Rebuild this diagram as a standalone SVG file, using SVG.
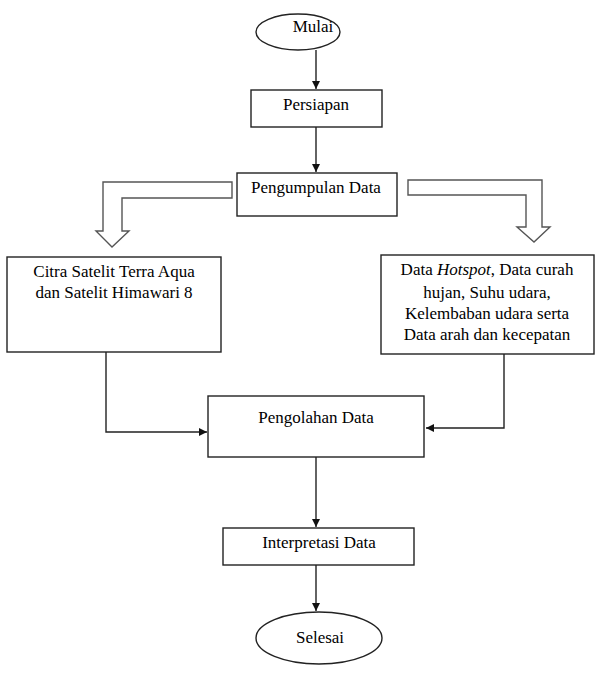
<svg xmlns="http://www.w3.org/2000/svg" width="600" height="680" viewBox="0 0 600 680">
<style>
.box{fill:#fff;stroke:#222;stroke-width:1.4}
.t{font-family:"Liberation Serif","Times New Roman",serif;font-size:17px;fill:#000;text-anchor:middle}
.ln{fill:none;stroke:#222;stroke-width:1.4}
.blk{fill:#fff;stroke:#555;stroke-width:1.4}
</style>
<defs>
<marker id="ah" markerWidth="10" markerHeight="10" refX="8" refY="4" orient="auto" markerUnits="userSpaceOnUse">
<path d="M0,0 L8,4 L0,8 Z" fill="#111"/>
</marker>
</defs>
<rect width="600" height="680" fill="#fff"/>
<g id="connectors">
<line class="ln" x1="316" y1="50" x2="316" y2="89" marker-end="url(#ah)" stroke="#666"/>
<line class="ln" x1="316" y1="127" x2="316" y2="172" marker-end="url(#ah)"/>
<polygon class="blk" points="232,182 103,182 103,231 96,231 112,247 129,231 122,231 122,198 232,198"/>
<polygon class="blk" points="408,180 542,180 542,227 550,227 534,242 517,227 526,227 526,195 408,195"/>
<polyline class="ln" points="106,352 106,432 207,432" marker-end="url(#ah)"/>
<polyline class="ln" points="504,354 504,428 426,428" marker-end="url(#ah)" stroke="#555"/>
<line class="ln" x1="316" y1="457" x2="316" y2="527" marker-end="url(#ah)"/>
<line class="ln" x1="316" y1="565" x2="316" y2="611" marker-end="url(#ah)" stroke="#777"/>
</g>
<g id="mulai">
<ellipse class="box" cx="298" cy="32" rx="42" ry="18"/>
<text class="t" x="313" y="32" font-size="16">Mulai</text>
</g>
<g id="persiapan">
<rect class="box" x="251" y="90" width="131" height="37"/>
<text class="t" x="316" y="110">Persiapan</text>
</g>
<g id="pengumpulan">
<rect class="box" x="237" y="173" width="160" height="43"/>
<text class="t" x="316" y="193">Pengumpulan Data</text>
</g>
<g id="citra">
<rect class="box" x="7" y="257" width="214" height="95"/>
<text class="t" x="114" y="277">Citra Satelit Terra Aqua</text>
<text class="t" x="114" y="298">dan Satelit Himawari 8</text>
</g>
<g id="datahotspot">
<rect class="box" x="381" y="255" width="213" height="99"/>
<text class="t" x="487" y="275">Data <tspan font-style="italic">Hotspot</tspan>, Data curah</text>
<text class="t" x="487" y="298">hujan, Suhu udara,</text>
<text class="t" x="487" y="319">Kelembaban udara serta</text>
<text class="t" x="487" y="340">Data arah dan kecepatan</text>
</g>
<g id="pengolahan">
<rect class="box" x="208" y="396" width="216" height="61"/>
<text class="t" x="316" y="423">Pengolahan Data</text>
</g>
<g id="interpretasi">
<rect class="box" x="223" y="528" width="191" height="37"/>
<text class="t" x="319" y="548">Interpretasi Data</text>
</g>
<g id="selesai">
<ellipse class="box" cx="319" cy="638" rx="63" ry="26"/>
<text class="t" x="320" y="643">Selesai</text>
</g>
</svg>
